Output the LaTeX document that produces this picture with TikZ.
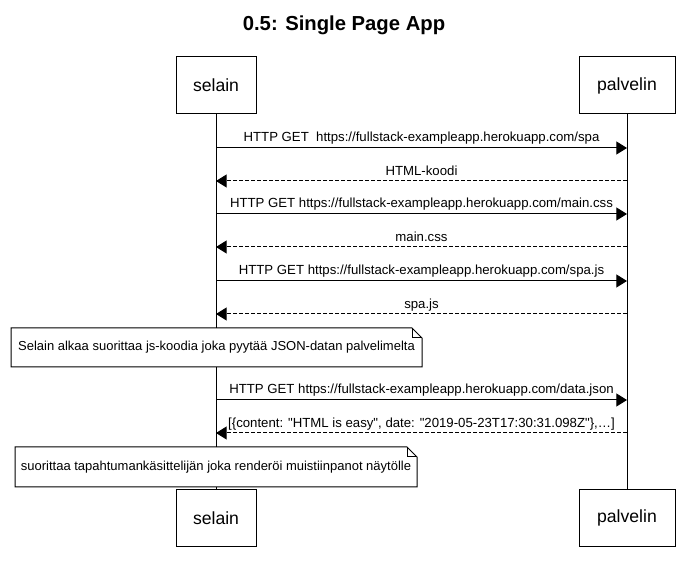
\documentclass[tikz,border=0pt]{standalone}
\usepackage{fontspec}
\setmainfont{Liberation Sans}[Ligatures=TeXOff]
\usetikzlibrary{arrows.meta}
\begin{document}
\begin{tikzpicture}[x=0.75pt,y=-0.75pt,
  every node/.style={inner sep=0pt,outer sep=0pt},
  actor/.style={draw,line width=0.75pt,fill=white,minimum height=57*0.75pt,font=\fontsize{13.2pt}{15pt}\selectfont},
  lbl/.style={font=\fontsize{9.9pt}{11pt}\selectfont,anchor=base},
  lifeline/.style={line width=0.75pt},
  msg/.style={line width=0.75pt,-{Triangle[length=8pt,width=9.75pt]}},
  reply/.style={msg,dash pattern=on 3pt off 1.5pt},
  notebox/.style={fill=white,font=\fontsize{9.75pt}{11pt}\selectfont},
  notedraw/.style={line width=0.75pt}
]
\useasboundingbox (0,0) rectangle (683,566);
\node[font=\bfseries\fontsize{15.2pt}{18pt}\selectfont] (title) at (344,25) {0.5: Single Page App};
% actors
\node[actor,minimum width=80*0.75pt] (st) at (216,85.5) {selain};
\node[actor,minimum width=96*0.75pt] (pt) at (627,85.5) {palvelin};
\node[actor,minimum width=80*0.75pt] (sb) at (216,518) {selain};
\node[actor,minimum width=96*0.75pt] (pb) at (627,518) {palvelin};
\draw[lifeline] (st.south) -- (sb.north);
\draw[lifeline] (pt.south) -- (pb.north);
% message points
\foreach \i/\y in {1/148,2/181,3/214,4/247,5/281,6/314,7/400,8/433}{
  \coordinate (s\i) at (216,\y);
  \coordinate (p\i) at (627,\y);
}
\draw[msg] (s1) -- (p1) node[lbl,pos=0.5,yshift=5pt] (m1) {HTTP GET\ \ https://fullstack-exampleapp.herokuapp.com/spa};
\draw[reply] (p2) -- (s2) node[lbl,pos=0.5,yshift=4pt] (m2) {HTML-koodi};
\draw[msg] (s3) -- (p3) node[lbl,pos=0.5,yshift=5pt] (m3) {HTTP GET https://fullstack-exampleapp.herokuapp.com/main.css};
\draw[reply] (p4) -- (s4) node[lbl,pos=0.5,yshift=4pt] (m4) {main.css};
\draw[msg] (s5) -- (p5) node[lbl,pos=0.5,yshift=5pt] (m5) {HTTP GET https://fullstack-exampleapp.herokuapp.com/spa.js};
\draw[reply] (p6) -- (s6) node[lbl,pos=0.5,yshift=4pt] (m6) {spa.js};
\draw[msg] (s7) -- (p7) node[lbl,pos=0.5,yshift=5pt] (m7) {HTTP GET https://fullstack-exampleapp.herokuapp.com/data.json};
\draw[reply] (p8) -- (s8) node[lbl,pos=0.5,yshift=4pt] (m8) {[\{content: "HTML is easy", date: "2019-05-23T17:30:31.098Z"\},…]};
% notes
\node[notebox,minimum width=411*0.75pt,minimum height=39*0.75pt] (n1) at (216.5,347.5) {Selain alkaa suorittaa js-koodia joka pyytää JSON-datan palvelimelta};
\draw[notedraw] (n1.south west) -- (n1.north west) -- ([xshift=-7.5pt]n1.north east) -- ([yshift=-7.5pt]n1.north east) -- (n1.south east) -- cycle;
\draw[notedraw] ([xshift=-7.5pt]n1.north east) -- ([xshift=-7.5pt,yshift=-7.5pt]n1.north east) -- ([yshift=-7.5pt]n1.north east);
\node[notebox,minimum width=402*0.75pt,minimum height=40*0.75pt] (n2) at (216,467) {suorittaa tapahtumankäsittelijän joka renderöi muistiinpanot näytölle};
\draw[notedraw] (n2.south west) -- (n2.north west) -- ([xshift=-7.5pt]n2.north east) -- ([yshift=-7.5pt]n2.north east) -- (n2.south east) -- cycle;
\draw[notedraw] ([xshift=-7.5pt]n2.north east) -- ([xshift=-7.5pt,yshift=-7.5pt]n2.north east) -- ([yshift=-7.5pt]n2.north east);
\end{tikzpicture}
\end{document}
